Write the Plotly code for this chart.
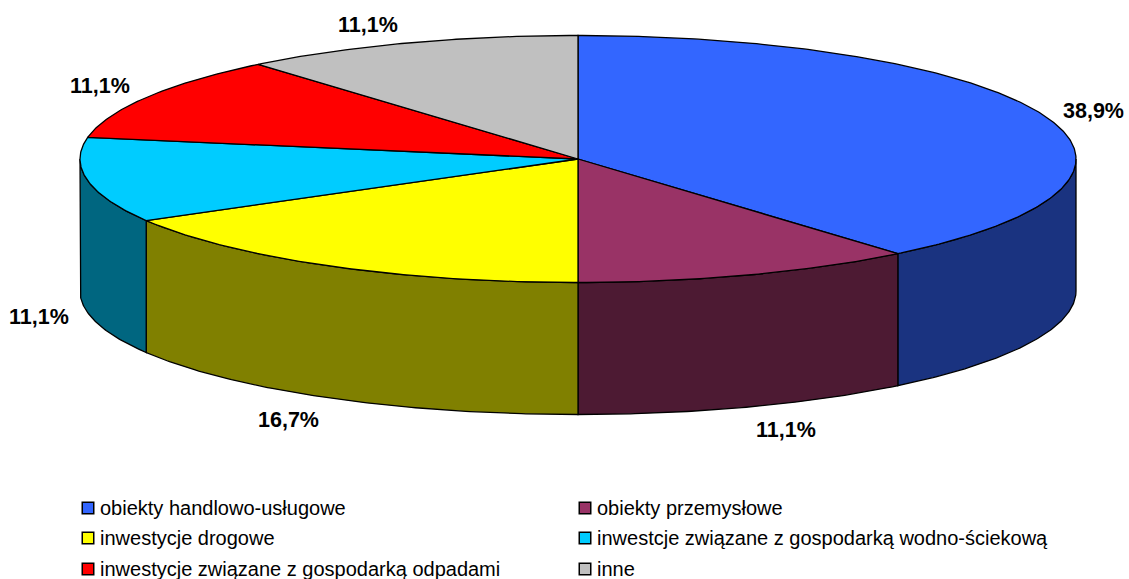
import numpy as np
import plotly.graph_objects as go

# Chart data
categories = [
    "obiekty handlowo-usługowe",
    "obiekty przemysłowe",
    "inwestycje drogowe",
    "inwestcje związane z gospodarką wodno-ściekową",
    "inwestycje związane z gospodarką odpadami",
    "inne",
]
shares = [38.9, 11.1, 16.7, 11.1, 11.1, 11.1]
top_colors = ["#3366FF", "#993366", "#FFFF00", "#00CCFF", "#FF0000", "#C0C0C0"]
side_colors = ["#1A3380", "#4D1A33", "#808000", "#006680", "#800000", "#606060"]

# Geometry of the tilted disc, in page pixels
WIDTH, HEIGHT = 1129, 579
CX, CY, RX, RY, DEPTH = 578, 159, 498, 123.5, 132

# Where each percentage label sits
label_x = [1093, 786, 288, 39, 100, 368]
label_y = [111, 430, 420, 317, 86, 25]

# Legend grid
legend_x = [88, 585, 88, 585, 88, 585]
legend_y = [508, 508, 538, 538, 569, 569]


def rim(start, stop, drop=0.0):
    """Points along the disc edge, angles in degrees clockwise from 12 o'clock."""
    t = np.radians(np.linspace(start, stop, max(2, int(abs(stop - start) * 2) + 1)))
    return CX + RX * np.sin(t), CY - RY * np.cos(t) + drop


edges = np.concatenate([[0.0], np.cumsum(shares)]) / sum(shares) * 360
fig = go.Figure()

# Side walls: only the front half of the rim is visible
for i, name in enumerate(categories):
    lo, hi = max(edges[i], 90), min(edges[i + 1], 270)
    if lo >= hi:
        continue
    x_top, y_top = rim(lo, hi)
    x_low, y_low = rim(lo, hi, DEPTH)
    fig.add_trace(go.Scatter(
        x=np.concatenate([x_top, x_low[::-1], x_top[:1]]),
        y=np.concatenate([y_top, y_low[::-1], y_top[:1]]),
        mode="lines", fill="toself", fillcolor=side_colors[i],
        line=dict(color="#000000", width=1.3), hoverinfo="skip", showlegend=False,
    ))

# Top face wedges
for i, name in enumerate(categories):
    x_arc, y_arc = rim(edges[i], edges[i + 1])
    fig.add_trace(go.Scatter(
        x=np.concatenate([[CX], x_arc, [CX]]),
        y=np.concatenate([[CY], y_arc, [CY]]),
        mode="lines", fill="toself", fillcolor=top_colors[i],
        line=dict(color="#000000", width=1.3), name=name,
        hoverinfo="name", showlegend=False,
    ))

# Legend keys
fig.add_trace(go.Scatter(
    x=legend_x, y=legend_y, mode="markers",
    marker=dict(symbol="square", size=11.5, color=top_colors,
                line=dict(color="#000000", width=1.5)),
    hoverinfo="skip", showlegend=False,
))

annotations = []
for i, value in enumerate(shares):
    annotations.append(dict(
        x=label_x[i], y=label_y[i], xref="x", yref="y", showarrow=False,
        text=f"<b>{value:.1f}%</b>".replace(".", ","),
        font=dict(family="Liberation Sans", size=21.5, color="#000000"),
    ))
for i, name in enumerate(categories):
    annotations.append(dict(
        x=legend_x[i] + 10, y=legend_y[i], xref="x", yref="y", showarrow=False,
        xanchor="left", text=name,
        font=dict(family="Liberation Sans", size=20, color="#000000"),
    ))

fig.update_layout(
    width=WIDTH, height=HEIGHT, margin=dict(l=0, r=0, t=0, b=0),
    paper_bgcolor="#FFFFFF", plot_bgcolor="#FFFFFF", showlegend=False,
    xaxis=dict(range=[0, WIDTH], visible=False, fixedrange=True),
    yaxis=dict(range=[HEIGHT, 0], visible=False, fixedrange=True),
    annotations=annotations,
)
fig.write_html("out.html", config=dict(displayModeBar=False))
